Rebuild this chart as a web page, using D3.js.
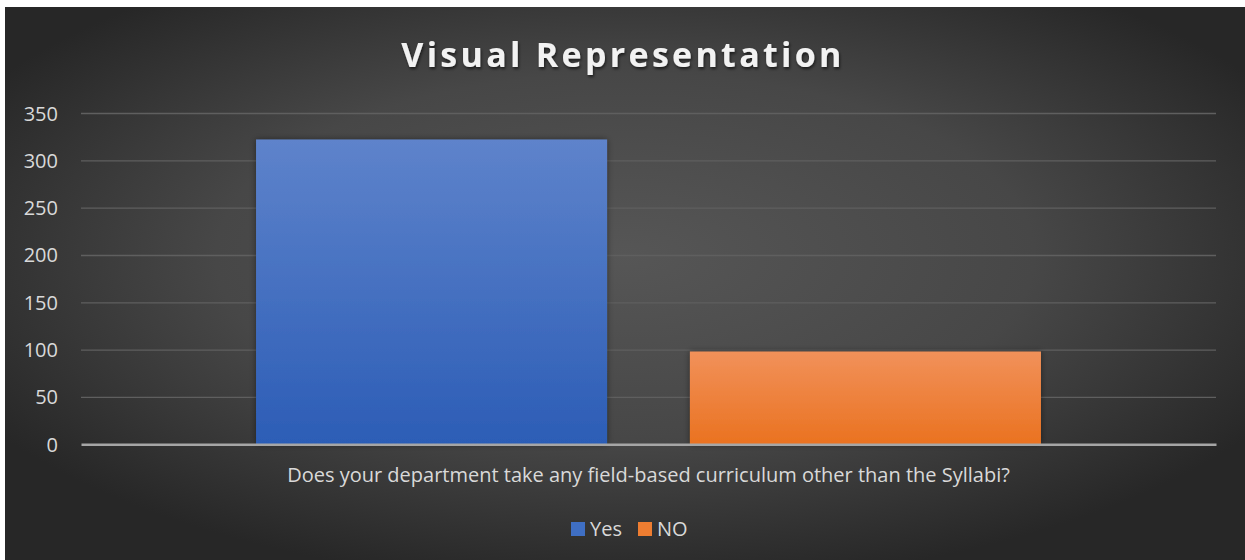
<!DOCTYPE html>
<html>
<head>
<meta charset="utf-8">
<script src="https://cdn.jsdelivr.net/npm/d3@7"></script>
<style>
html,body{margin:0;padding:0;background:#fff;}
svg{display:block;}
</style>
</head>
<body>
<svg id="chart" width="1245" height="560"></svg>
<script>
const categories = ["Does your department take any field-based curriculum other than the Syllabi?"];
const seriesNames = ["Yes", "NO"];
const yesValues = [322];
const noValues = [98];
const yTicks = [0, 50, 100, 150, 200, 250, 300, 350];
const titleText = "Visual Representation";

const svg = d3.select("#chart");
const W = 1245, H = 560;
const defs = svg.append("defs");

// background gradient
const bg = defs.append("radialGradient").attr("id","bg")
  .attr("cx","50%").attr("cy","45%").attr("r","60%")
  .attr("gradientUnits","objectBoundingBox");
bg.append("stop").attr("offset","0%").attr("stop-color","#565656");
bg.append("stop").attr("offset","55%").attr("stop-color","#474747");
bg.append("stop").attr("offset","100%").attr("stop-color","#272727");

const gBlue = defs.append("linearGradient").attr("id","gBlue").attr("x1",0).attr("y1",0).attr("x2",0).attr("y2",1);
gBlue.append("stop").attr("offset","0%").attr("stop-color","#5e83cb");
gBlue.append("stop").attr("offset","100%").attr("stop-color","#2c5db6");
const gOrange = defs.append("linearGradient").attr("id","gOrange").attr("x1",0).attr("y1",0).attr("x2",0).attr("y2",1);
gOrange.append("stop").attr("offset","0%").attr("stop-color","#f1915a");
gOrange.append("stop").attr("offset","100%").attr("stop-color","#ea7220");

const sh = defs.append("filter").attr("id","shadow").attr("x","-10%").attr("y","-10%").attr("width","120%").attr("height","120%");
sh.append("feDropShadow").attr("dx",0).attr("dy",0).attr("stdDeviation",3).attr("flood-color","#000").attr("flood-opacity",0.45);
const tsh = defs.append("filter").attr("id","tshadow").attr("x","-5%").attr("y","-20%").attr("width","110%").attr("height","150%");
tsh.append("feDropShadow").attr("dx",1).attr("dy",2).attr("stdDeviation",1.5).attr("flood-color","#000").attr("flood-opacity",0.6);

svg.append("rect").attr("x",5).attr("y",7).attr("width",W-5).attr("height",H-7).attr("fill","url(#bg)");

const font = "'Open Sans', sans-serif";
const fs = 20;

// scales
const x0 = 81, x1 = 1216;
const y = d3.scaleLinear().domain([0,350]).range([444.3,113]);
const xCat = d3.scaleBand().domain(categories).range([x0,x1]).paddingInner(0).paddingOuter(0.223);
const xSer = d3.scaleBand().domain(seriesNames).range([0,xCat.bandwidth()]).paddingInner(0.191).paddingOuter(0);

// gridlines
const grid = svg.append("g").attr("transform",`translate(${x0},0)`)
  .call(d3.axisLeft(y).tickValues(yTicks.filter(d=>d>0)).tickSize(-(x1-x0)).tickFormat(""));
grid.select(".domain").remove();
grid.selectAll("line").attr("stroke","#5f5f5f").attr("stroke-width",1.3);

// y axis labels
const yAx = svg.append("g").attr("transform",`translate(${x0},0)`)
  .call(d3.axisLeft(y).tickValues(yTicks).tickSize(0).tickPadding(23));
yAx.select(".domain").remove();
yAx.selectAll("text").attr("fill","#d9d9d9").attr("font-family",font).attr("font-size",fs).attr("dy","0.35em");

// bars
const data = seriesNames.map((s,i)=>({series:s, cat:categories[0], value: i===0?yesValues[0]:noValues[0]}));
svg.append("g").selectAll("rect").data(data).join("rect")
  .attr("x",d=>xCat(d.cat)+xSer(d.series))
  .attr("y",d=>y(d.value))
  .attr("width",xSer.bandwidth())
  .attr("height",d=>y(0)-y(d.value))
  .attr("fill",(d,i)=>i===0?"url(#gBlue)":"url(#gOrange)")
  .attr("filter","url(#shadow)");

// x axis
const xAx = svg.append("g").attr("transform",`translate(0,${y(0)})`)
  .call(d3.axisBottom(xCat).tickSize(0).tickPadding(24));
xAx.select(".domain").attr("stroke","#a6a6a6").attr("stroke-width",2.5);
xAx.selectAll("text").attr("fill","#d9d9d9").attr("font-family",font).attr("font-size",fs);

// title
svg.append("text").attr("x",623).attr("y",67).attr("text-anchor","middle")
  .attr("font-family",font).attr("font-weight",700).attr("font-size",34)
  .attr("letter-spacing",3.3).attr("fill","#f2f2f2").attr("filter","url(#tshadow)")
  .text(titleText);

// legend
const colors = ["#3f6fc4","#ee7d31"];
const leg = svg.append("g");
const legPos = [571, 638];
seriesNames.forEach((s,i)=>{
  leg.append("rect").attr("x",legPos[i]).attr("y",522).attr("width",14).attr("height",14).attr("fill",colors[i]);
  leg.append("text").attr("x",legPos[i]+19).attr("y",536).attr("font-family",font).attr("font-size",fs)
    .attr("fill","#d9d9d9").text(s);
});
</script>
</body>
</html>
